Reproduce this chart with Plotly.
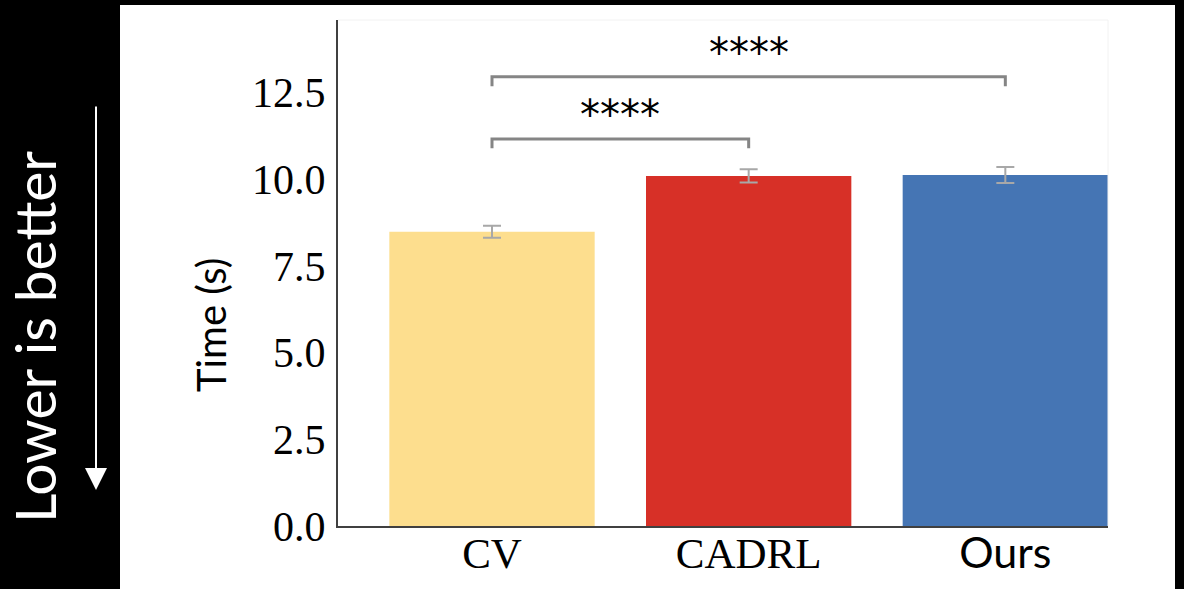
import plotly.graph_objects as go

# ---- data ----
categories = ["CV", "CADRL", "Ours"]
tick_labels = ["CV", "CADRL", '<span style="font-family:Lato">Ours</span>']
mean_time = [8.49, 10.10, 10.13]
err_time = [0.17, 0.19, 0.23]
bar_colors = ["#FDDE8E", "#D73027", "#4575B4"]
y_ticks = [0.0, 2.5, 5.0, 7.5, 10.0, 12.5]
# significance comparisons: (from idx, to idx, bracket level, label)
comparisons = [(0, 1, 11.17, "****"), (0, 2, 12.96, "****")]
bracket_drop = 0.27

W, H = 1184, 589
L, R, T, B = 338, 1108, 20, 526

def px(x):
    return (x - L) / (R - L)

def py(y):
    return (B - y) / (B - T)

fig = go.Figure()
fig.add_trace(go.Bar(
    x=list(range(len(categories))), y=mean_time, width=0.8,
    marker=dict(color=bar_colors, line=dict(width=0)),
    error_y=dict(type="data", array=err_time, color="#A8A8A8", thickness=2, width=9),
    showlegend=False,
))

shapes = []
annotations = []
# white panel behind chart
shapes.append(dict(type="rect", xref="paper", yref="paper", x0=px(120), x1=px(1175),
                   y0=py(600), y1=py(5), fillcolor="white", line=dict(width=0), layer="below"))
# faint top/right frame
shapes.append(dict(type="line", xref="paper", yref="paper", x0=0, x1=1, y0=1, y1=1,
                   line=dict(color="#F2F2F2", width=1)))
shapes.append(dict(type="line", xref="paper", yref="paper", x0=1, x1=1, y0=0, y1=1,
                   line=dict(color="#F2F2F2", width=1)))

for a, b, lvl, lab in comparisons:
    shapes.append(dict(type="path", xref="x", yref="y",
                       path=f"M {a},{lvl-bracket_drop} L {a},{lvl} L {b},{lvl} L {b},{lvl-bracket_drop}",
                       line=dict(color="#858585", width=3)))
    annotations.append(dict(x=(a + b) / 2, y=lvl + 0.68, xref="x", yref="y", text=lab,
                            showarrow=False, xanchor="center", yanchor="middle",
                            font=dict(family="DejaVu Sans", size=40, color="black")))

annotations.append(dict(x=px(211), y=py(325), xref="paper", yref="paper", text="Time (s)",
                        textangle=-90, showarrow=False, xanchor="center", yanchor="middle",
                        font=dict(family="Lato", size=40, color="black")))
annotations.append(dict(x=px(34), y=py(337), xref="paper", yref="paper", text="Lower is better",
                        textangle=-90, showarrow=False, xanchor="center", yanchor="middle",
                        font=dict(family="Lato", size=57, color="white")))
annotations.append(dict(x=px(96), y=py(490), xref="paper", yref="paper", text="",
                        showarrow=True, ax=0, ay=-385, axref="pixel", ayref="pixel",
                        arrowhead=2, arrowsize=2.2, arrowwidth=2, arrowcolor="white"))

fig.update_layout(
    width=W, height=H,
    margin=dict(l=L, r=W - R, t=T, b=H - B, pad=0, autoexpand=False),
    paper_bgcolor="black", plot_bgcolor="rgba(0,0,0,0)",
    shapes=shapes, annotations=annotations,
    bargap=0.2,
    xaxis=dict(range=[-0.6, 2.4], tickvals=list(range(len(categories))), ticktext=tick_labels,
               showgrid=False, zeroline=False, showline=True, linecolor="#404040", linewidth=2,
               ticks="", ticklabelstandoff=-12, automargin=False,
               tickfont=dict(family="Liberation Serif", size=43, color="black")),
    yaxis=dict(range=[0, 14.6], tickvals=y_ticks, tickformat=".1f",
               showgrid=False, zeroline=False, showline=True, linecolor="#404040", linewidth=2,
               ticks="", ticklabelstandoff=2, automargin=False,
               tickfont=dict(family="Liberation Serif", size=42, color="black")),
)

fig.write_html("out.html")
